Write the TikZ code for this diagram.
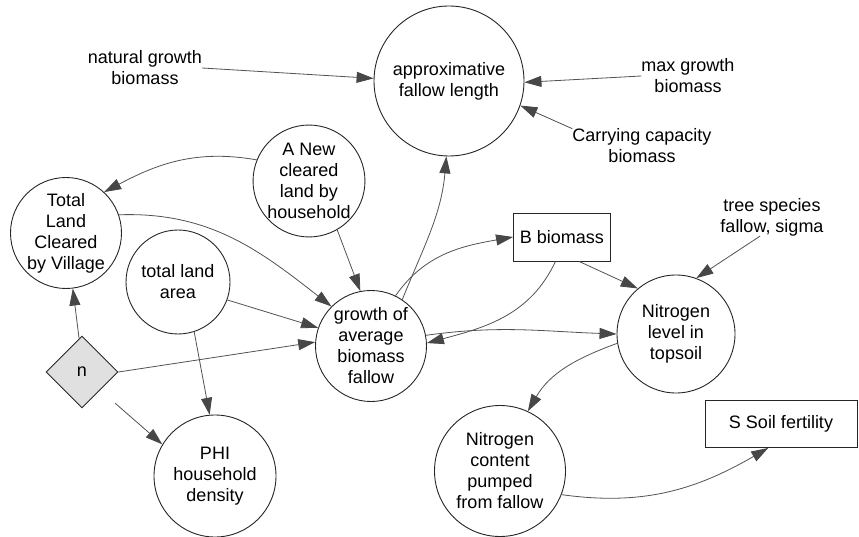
\documentclass[tikz,border=0pt]{standalone}
\usepackage{fontspec}
\setmainfont{Liberation Sans}
\usetikzlibrary{arrows.meta,shapes.geometric}
\begin{document}
\begin{tikzpicture}[x=1pt,y=-1pt,
  font=\fontsize{18}{21}\selectfont,
  circ/.style={circle,draw=black!85,line width=0.9pt,inner sep=0pt,align=center},
  box/.style={rectangle,draw=black!85,line width=0.9pt,inner sep=0pt,align=center},
  lbl/.style={align=center,inner sep=0pt},
  con/.style={draw=black!68,line width=0.8pt,-{Triangle[length=17pt,width=11pt,color=black!72,fill=black!72]}},
]
\useasboundingbox (0,0) rectangle (859,537);

% nodes
\node[circ,minimum size=150pt] (ap) at (449,81) {approximative\\fallow length};
\node[lbl] (ngb) at (145,68) {natural growth\\biomass};
\node[lbl] (mgb) at (688,76) {max growth\\biomass};
\node[lbl] (ccb) at (642,146) {Carrying capacity\\biomass};
\node[lbl] (tsf) at (772,217) {tree species\\fallow, sigma};

\node[circ,minimum size=104pt] (an) at (309,181) {A New\\cleared\\land by\\household};
\node[circ,minimum size=108pt] (tlc) at (66,233) {Total\\Land\\Cleared\\by Village};
\node[circ,minimum size=104pt] (tla) at (178,282) {total land\\area};
\node[diamond,draw=black!85,fill=black!12,line width=0.9pt,minimum width=72pt,minimum height=72pt,inner sep=0pt] (n) at (82,372) {n};
\node[circ,minimum size=111pt] (gr) at (371,346) {growth of\\average\\biomass\\fallow};
\node[box,minimum width=97pt,minimum height=48pt] (bb) at (562,237) {B biomass};
\node[circ,minimum size=118pt] (nl) at (676,334) {Nitrogen\\level in\\topsoil};
\node[circ,minimum size=131pt] (nc) at (500,471) {Nitrogen\\content\\pumped\\from fallow};
\node[box,minimum width=152pt,minimum height=47pt] (sf) at (781,424) {S Soil fertility};
\node[circ,minimum size=122pt] (phi) at (215,476) {PHI\\household\\density};

% connectors
\draw[con] (ngb.east) -- (ap.178);
\draw[con] (mgb.west) -- (ap.-1);
\draw[con] (ccb.north west) -- (ap.-19);
\draw[con] (tsf.-122) -- (nl.70);
\draw[con] (gr.56) to[out=68,in=265] (ap.268);
\draw[con] (an.158) to[out=170,in=28] (tlc.47);
\draw[con] (tlc.19) to[out=2,in=142] (gr.135);
\draw[con] (an.-60) -- (gr.101);
\draw[con] (tla.-20) -- (gr.161);
\draw[con] (tla.-72) -- (phi.95);
\draw[con] (n.95) -- (tlc.-83);
\draw[con] (n.east) -- (gr.176);
\draw[con,shorten <=20pt] (n.south east) -- (phi.149);
\draw[con] (gr.64) to[out=55,in=190] (bb.west);
\draw[con] (bb.-105) to[out=245,in=15] (gr.3);
\draw[con] (bb.-55) -- (nl.130);
\draw[con] (gr.11) to[out=8,in=178] (nl.180);
\draw[con] (nl.189) to[out=200,in=60] (nc.65);
\draw[con] (nc.-21) to[out=-8,in=210] (sf.-118);
\end{tikzpicture}
\end{document}
